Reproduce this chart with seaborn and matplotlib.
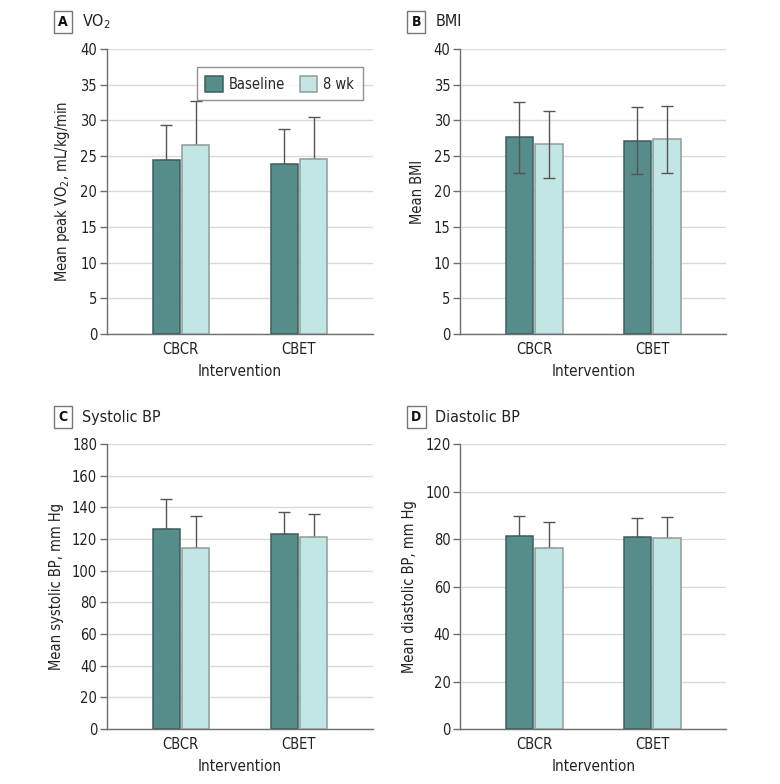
import matplotlib
matplotlib.use("Agg")
import matplotlib.pyplot as plt
import matplotlib.patches as mpatches
import numpy as np
import pandas as pd
import seaborn as sns

# Values (mean, SD)
interventions = ["CBCR", "CBET"]
timepoints = ["Baseline", "8 wk"]

vo2_mean = {"Baseline": [24.4, 23.8], "8 wk": [26.5, 24.5]}
vo2_sd = {"Baseline": [5.0, 5.0], "8 wk": [6.2, 6.0]}

bmi_mean = {"Baseline": [27.6, 27.1], "8 wk": [26.6, 27.3]}
bmi_sd = {"Baseline": [5.0, 4.7], "8 wk": [4.7, 4.7]}

sbp_mean = {"Baseline": [126.4, 123.3], "8 wk": [114.2, 121.4]}
sbp_sd = {"Baseline": [19.0, 13.6], "8 wk": [20.2, 14.7]}

dbp_mean = {"Baseline": [81.3, 81.0], "8 wk": [76.3, 80.5]}
dbp_sd = {"Baseline": [8.4, 7.8], "8 wk": [10.9, 8.8]}

panels = [
    ("A", "VO$_2$", "Mean peak VO$_2$, mL/kg/min", vo2_mean, vo2_sd, 40, 5, False),
    ("B", "BMI", "Mean BMI", bmi_mean, bmi_sd, 40, 5, True),
    ("C", "Systolic BP", "Mean systolic BP, mm Hg", sbp_mean, sbp_sd, 180, 20, False),
    ("D", "Diastolic BP", "Mean diastolic BP, mm Hg", dbp_mean, dbp_sd, 120, 20, False),
]

fill_colors = {"Baseline": "#568c89", "8 wk": "#c2e6e4"}
edge_colors = {"Baseline": "#3e5f5d", "8 wk": "#8e9c9b"}

sns.set_theme(style="white")
plt.rcParams["font.family"] = ["DejaVu Sans"]
plt.rcParams["font.stretch"] = "condensed"
plt.rcParams["mathtext.default"] = "regular"

fig = plt.figure(figsize=(7.8, 7.84), dpi=100)
positions = [
    (0.137, 0.574, 0.341, 0.3635),
    (0.590, 0.574, 0.341, 0.3635),
    (0.137, 0.070, 0.341, 0.3635),
    (0.590, 0.070, 0.341, 0.3635),
]

for (letter, title, ylabel, means, sds, ymax, step, both_sides), pos in zip(panels, positions):
    ax = fig.add_axes(pos)
    rows = []
    for t in timepoints:
        for i, name in enumerate(interventions):
            rows.append({"Intervention": name, "time": t, "value": means[t][i], "sd": sds[t][i]})
    df = pd.DataFrame(rows)

    sns.barplot(data=df, x="Intervention", y="value", hue="time",
                order=interventions, hue_order=timepoints,
                palette=fill_colors, saturation=1, width=0.5, gap=0.08,
                errorbar=None, legend=False, ax=ax, zorder=3)

    # colour the edges per series and add SD error bars at the bar centres
    for t, container in zip(timepoints, ax.containers):
        sub = df[df["time"] == t]
        xs = []
        for bar in container:
            bar.set_edgecolor(edge_colors[t])
            bar.set_linewidth(1.1)
            xs.append(bar.get_x() + bar.get_width() / 2)
        sd = sub["sd"].to_numpy()
        lower = sd if both_sides else np.zeros_like(sd)
        ax.errorbar(xs, sub["value"], yerr=[lower, sd], fmt="none",
                    ecolor="#555555", elinewidth=1.0, capsize=4, capthick=1.0,
                    zorder=4 if both_sides else 2)

    ax.set_ylim(0, ymax)
    ax.set_yticks(np.arange(0, ymax + 1, step))
    ax.set_xlim(-0.627, 1.627)
    ax.yaxis.grid(True, color="#d9d9d9", linewidth=1.0, zorder=0)
    ax.set_axisbelow(True)
    for side in ["top", "right"]:
        ax.spines[side].set_visible(False)
    for side in ["left", "bottom"]:
        ax.spines[side].set_color("#6e6e6e")
        ax.spines[side].set_linewidth(1.0)
    ax.tick_params(axis="y", length=5, width=1.0, color="#6e6e6e", labelsize=10.5,
                   labelcolor="#222222", pad=2, left=True)
    ax.tick_params(axis="x", length=0, labelsize=10.5, labelcolor="#222222", pad=6)
    ax.set_xlabel("Intervention", fontsize=11, color="#222222", labelpad=5)
    ax.set_ylabel(ylabel, fontsize=10.5, color="#222222", labelpad=6)

    ax.text(-0.165, 1.095, letter, transform=ax.transAxes, fontsize=10, fontweight="bold",
            ha="center", va="center", color="#111111",
            bbox=dict(boxstyle="square,pad=0.3", facecolor="white", edgecolor="#777777", linewidth=1.0))
    ax.text(-0.094, 1.095, title, transform=ax.transAxes, fontsize=11.5,
            ha="left", va="center", color="#222222")

    if letter == "A":
        handles = [mpatches.Patch(facecolor=fill_colors[t], edgecolor=edge_colors[t], linewidth=1.1, label=t)
                   for t in timepoints]
        leg = ax.legend(handles=handles, loc="upper right", bbox_to_anchor=(0.962, 0.937), ncol=2,
                        frameon=True, fancybox=False, fontsize=10.5, handlelength=1.2, handleheight=1.3,
                        columnspacing=1.0, handletextpad=0.4, borderpad=0.6, borderaxespad=0)
        leg.get_frame().set_edgecolor("#777777")
        leg.get_frame().set_linewidth(1.0)
        leg.set_zorder(5)

fig.savefig("out.png", dpi=100, facecolor="white")
